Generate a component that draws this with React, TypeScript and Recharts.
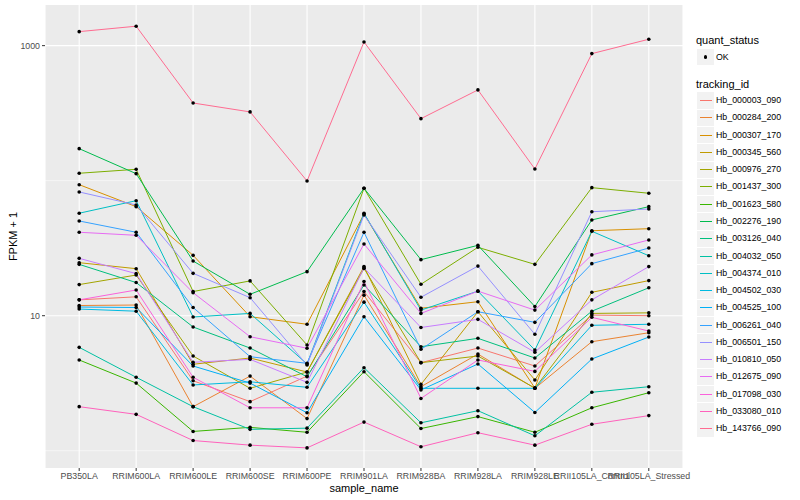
import React from 'react';
import { LineChart, Line, XAxis, YAxis, CartesianGrid, ReferenceLine } from 'recharts';

// x categories
const samples = [
  'PB350LA', 'RRIM600LA', 'RRIM600LE', 'RRIM600SE', 'RRIM600PE', 'RRIM901LA',
  'RRIM928BA', 'RRIM928LA', 'RRIM928LE', 'RRII105LA_Control', 'RRII105LA_Stressed',
];

// legend order (ggplot hue palette)
const trackingIds = [
  'Hb_000003_090', 'Hb_000284_200', 'Hb_000307_170', 'Hb_000345_560', 'Hb_000976_270',
  'Hb_001437_300', 'Hb_001623_580', 'Hb_002276_190', 'Hb_003126_040', 'Hb_004032_050',
  'Hb_004374_010', 'Hb_004502_030', 'Hb_004525_100', 'Hb_006261_040', 'Hb_006501_150',
  'Hb_010810_050', 'Hb_012675_090', 'Hb_017098_030', 'Hb_033080_010', 'Hb_143766_090',
];

const colors = [
  '#F8766D', '#EA8331', '#D89000', '#C09B00', '#A3A500',
  '#7CAE00', '#39B600', '#00BB4E', '#00BF7D', '#00C1A3',
  '#00BFC4', '#00BAE0', '#00B0F6', '#35A2FF', '#9590FF',
  '#C77CFF', '#E76BF3', '#FA62DB', '#FF62BC', '#FF6C91',
];

// FPKM + 1, one value per sample
const hb000003_090 = [13.1, 13.8, 3.3, 2.31, 3.57, 15.1, 4.49, 5.76, 4.24, 10.1, 10.0];
const hb000284_200 = [11.9, 12.0, 2.12, 3.57, 1.73, 14.2, 2.98, 5.2, 2.9, 6.42, 7.48];
const hb000307_170 = [93.4, 64.2, 28.0, 9.83, 8.64, 56.7, 11.35, 12.7, 2.91, 42.6, 44.1];
const hb000345_560 = [24.7, 22.3, 4.37, 4.86, 3.83, 23.1, 3.1, 10.7, 3.34, 14.9, 18.2];
const hb000976_270 = [17.0, 20.0, 5.03, 2.9, 3.83, 22.4, 4.49, 5.03, 2.91, 10.4, 10.5];
const hb001437_300 = [113.5, 121.4, 15.1, 18.1, 6.07, 87.8, 17.1, 32.1, 24.0, 88.8, 80.7];
const hb001623_580 = [4.7, 3.17, 1.39, 1.49, 1.37, 3.85, 1.46, 1.79, 1.37, 2.08, 2.69];
const hb002276_190 = [172.6, 112.7, 25.4, 14.4, 21.2, 87.8, 26.0, 33.2, 11.7, 51.2, 64.2];
const hb003126_040 = [24.0, 17.6, 8.25, 5.76, 3.53, 16.9, 5.89, 6.8, 4.86, 10.8, 16.1];
const hb004032_050 = [5.83, 3.5, 2.12, 1.44, 1.47, 4.12, 1.61, 1.98, 1.29, 2.71, 2.98];
const hb004374_010 = [57.4, 71.1, 9.78, 10.4, 4.39, 57.4, 11.0, 15.2, 5.57, 42.2, 27.8];
const hb004502_030 = [11.2, 10.8, 3.07, 3.24, 2.95, 12.6, 2.9, 2.9, 2.9, 8.49, 8.64];
const hb004525_100 = [11.6, 11.5, 4.24, 3.17, 1.91, 9.83, 2.82, 4.39, 1.92, 4.78, 6.95];
const hb006261_040 = [50.3, 41.5, 11.5, 4.97, 4.44, 41.5, 5.64, 10.7, 8.93, 24.3, 31.7];
const hb006501_150 = [82.5, 66.1, 20.6, 13.6, 4.31, 55.7, 13.7, 23.3, 7.28, 58.9, 61.7];
const hb010810_050 = [26.6, 20.5, 4.52, 4.75, 3.21, 22.6, 8.18, 9.4, 5.36, 13.1, 23.1];
const hb012675_090 = [41.5, 39.4, 14.8, 6.99, 5.74, 34.0, 10.4, 15.2, 11.0, 28.2, 36.4];
const hb017098_030 = [13.1, 15.5, 3.5, 2.08, 2.08, 17.9, 2.44, 4.7, 3.87, 9.73, 7.7];
const hb033080_010 = [2.12, 1.86, 1.19, 1.1, 1.05, 1.63, 1.07, 1.36, 1.1, 1.57, 1.82];
const hb143766_090 = [1270, 1393, 376, 323, 99.5, 1065, 288, 470, 122, 873, 1115];

const seriesValues = [
  hb000003_090, hb000284_200, hb000307_170, hb000345_560, hb000976_270,
  hb001437_300, hb001623_580, hb002276_190, hb003126_040, hb004032_050,
  hb004374_010, hb004502_030, hb004525_100, hb006261_040, hb006501_150,
  hb010810_050, hb012675_090, hb017098_030, hb033080_010, hb143766_090,
];

const yTicks = [10, 1000];
const yMinor = [1, 100];

const chartData = samples.map((sample, i) => {
  const row: Record<string, string | number> = { sample };
  trackingIds.forEach((id, k) => {
    row[id] = seriesValues[k][i];
  });
  return row;
});

const FONT = '"Liberation Sans", Arial, Helvetica, sans-serif';

// ggplot-style legend, drawn as plain HTML to the right of the panel
const GgLegend = () => {
  const keySize = 17.26;
  const firstTop = 100.7 - keySize / 2;
  return (
    <div style={{ position: 'absolute', left: 0, top: 0, width: 800, height: 500, pointerEvents: 'none' }}>
      <div style={{ position: 'absolute', left: 696, top: 34, fontSize: 11, lineHeight: '13px', color: '#000' }}>quant_status</div>
      <div style={{ position: 'absolute', left: 697, top: 48.6, width: 16.5, height: 16.5, background: '#F2F2F2' }}>
        <div style={{ position: 'absolute', left: 6.5, top: 6.5, width: 3.6, height: 3.6, borderRadius: '50%', background: '#000' }} />
      </div>
      <div style={{ position: 'absolute', left: 716, top: 51.5, fontSize: 8.8, lineHeight: '11px', color: '#000' }}>OK</div>
      <div style={{ position: 'absolute', left: 696, top: 78, fontSize: 11, lineHeight: '13px', color: '#000' }}>tracking_id</div>
      {trackingIds.map((id, i) => (
        <React.Fragment key={id}>
          <div style={{ position: 'absolute', left: 697, top: firstTop + i * keySize + 0.4, width: 16.5, height: keySize - 0.8, background: '#F2F2F2' }}>
            <div style={{ position: 'absolute', left: 2.5, top: (keySize - 0.8) / 2 - 0.5, width: 12, height: 1, background: colors[i] }} />
          </div>
          <div style={{ position: 'absolute', left: 716, top: firstTop + i * keySize + 3.1, fontSize: 8.8, lineHeight: '11px', color: '#000' }}>{id}</div>
        </React.Fragment>
      ))}
    </div>
  );
};

export default function App() {
  return (
    <div style={{ position: 'absolute', left: 0, top: 0, width: 800, height: 500, background: '#fff', fontFamily: FONT }}>
      <LineChart width={800} height={500} data={chartData} margin={{ top: 5, right: 117, bottom: 0, left: 0 }}>
        <CartesianGrid horizontal={false} stroke="#FFFFFF" strokeWidth={1.1} fill="#EBEBEB" fillOpacity={1} />
        <XAxis
          dataKey="sample"
          type="category"
          padding={{ left: 34.2, right: 34.2 }}
          height={32}
          interval={0}
          tickSize={3}
          tickMargin={2}
          axisLine={false}
          tickLine={{ stroke: '#333333' }}
          tick={{ fontSize: 8.8, fill: '#4D4D4D' }}
          label={{ value: 'sample_name', position: 'insideBottom', offset: 8, fontSize: 11, fill: '#000' }}
        />
        <YAxis
          scale="log"
          domain={[0.745, 2000]}
          allowDataOverflow
          ticks={yTicks}
          width={45}
          tickSize={3}
          tickMargin={2}
          axisLine={false}
          tickLine={{ stroke: '#333333' }}
          tick={{ fontSize: 8.8, fill: '#4D4D4D' }}
          label={{ value: 'FPKM + 1', angle: -90, position: 'center', dx: -9.5, fontSize: 11, fill: '#000' }}
        />
        {yMinor.map((v) => (
          <ReferenceLine key={`minor-${v}`} y={v} stroke="#FFFFFF" strokeWidth={0.55} />
        ))}
        {yTicks.map((v) => (
          <ReferenceLine key={`major-${v}`} y={v} stroke="#FFFFFF" strokeWidth={1.1} />
        ))}
        {trackingIds.map((id, i) => (
          <Line
            key={`line-${id}`}
            dataKey={id}
            type="linear"
            stroke={colors[i]}
            strokeWidth={1}
            dot={false}
            activeDot={false}
            isAnimationActive={false}
          />
        ))}
        {trackingIds.map((id) => (
          <Line
            key={`pts-${id}`}
            dataKey={id}
            type="linear"
            stroke="none"
            dot={{ r: 1.8, fill: '#000000', stroke: 'none' }}
            activeDot={false}
            isAnimationActive={false}
          />
        ))}
      </LineChart>
      <GgLegend />
    </div>
  );
}
